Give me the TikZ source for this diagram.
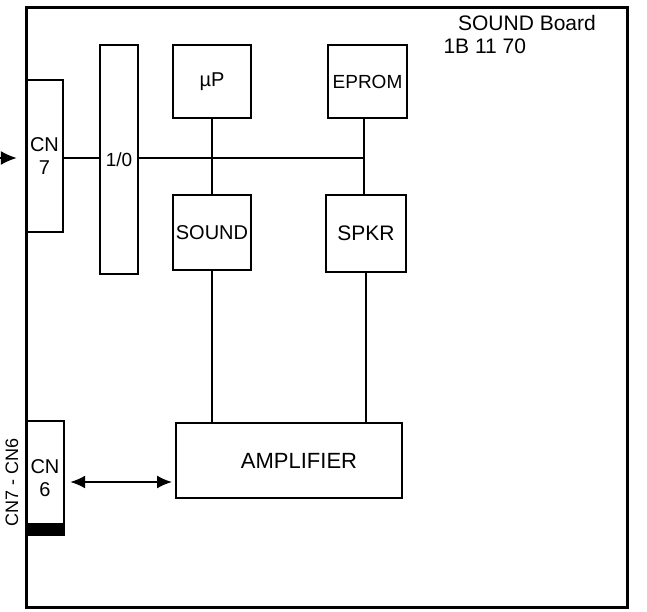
\documentclass[tikz,border=0pt]{standalone}
\usepackage{fontspec}
\setmainfont{Liberation Sans}
\usetikzlibrary{arrows.meta}

\begin{document}
\begin{tikzpicture}[
        x=1pt, y=-1pt,
        bloque/.style={draw, line width=2pt, align=center, inner sep=0pt, font=\fontsize{20}{22}\selectfont},
        conector/.style={draw, line width=2.4pt, align=center, inner sep=0pt, font=\fontsize{20}{23}\selectfont},
        bus/.style={line width=2.6pt},
        linea/.style={line width=1.4pt},
        flecha/.style={-{Latex[length=16pt,width=14pt]}, line width=1.6pt},
        dobleflecha/.style={{Latex[length=15pt,width=13pt]}-{Latex[length=15pt,width=13pt]}, line width=1.8pt}
    ]
        \useasboundingbox (0,0) rectangle (647,612);

        % placa
        \draw[line width=3pt] (26,8) rectangle (627,607);
        \node[font=\fontsize{21}{24}\selectfont] (titulo) at (527,23) {SOUND Board};
        \node[font=\fontsize{21}{24}\selectfont, anchor=west] (codigo) at (440,46) {1B 11 70};

        % conectores
        \node[conector, minimum width=37pt, minimum height=152pt] (cn7) at (44.5,156) {CN\\7};
        \node[conector, minimum width=38pt, minimum height=114pt] (cn6) at (45,478) {CN\\6};
        \fill (cn6.south west) rectangle ([yshift=13pt]cn6.south east);

        % bloques
        \node[bloque, minimum width=38pt, minimum height=228pt, font=\fontsize{19}{22}\selectfont] (io) at (119,159.5) {1/0};
        \node[bloque, minimum width=78pt, minimum height=73pt] (up) at (212,81.5) {µP};
        \node[bloque, minimum width=79pt, minimum height=73pt, font=\fontsize{19}{22}\selectfont] (eprom) at (367.5,81.5) {EPROM};
        \node[bloque, minimum width=78pt, minimum height=75pt] (sound) at (212,232.5) {SOUND};
        \node[bloque, minimum width=80pt, minimum height=77pt, font=\fontsize{21}{23}\selectfont] (spkr) at (366,233.5) {SPKR};
        \node[bloque, minimum width=226pt, minimum height=75pt, font=\fontsize{22}{24}\selectfont] (amp) at (289,460.5) {\hspace{20pt}AMPLIFIER};

        % bus y lineas
        \coordinate (bus) at (364,158);
        \draw[bus] (cn7.east |- bus) -- (io.west |- bus);
        \draw[bus] (io.east |- bus) -- (bus);
        \draw[linea] (up.south) -- (sound.north);
        \draw[linea] (eprom.south -| bus) -- (spkr.north -| bus);
        \draw[linea] (sound.south) -- (sound.south |- amp.north);
        \draw[linea] (spkr.south) -- (spkr.south |- amp.north);

        % flechas
        \coordinate (entrada) at (0,158);
        \draw[flecha, shorten >=8pt] (entrada) -- (entrada -| cn7.west);
        \draw[dobleflecha, shorten >=3pt] ([xshift=5pt, yshift=-4pt]cn6.east) -- ([yshift=-4pt]cn6.east -| amp.west);

        % texto lateral
        \node[rotate=90, anchor=base, font=\fontsize{18}{20}\selectfont] (lateral) at (18,482) {CN7 - CN6};

    \end{tikzpicture}
\end{document}
